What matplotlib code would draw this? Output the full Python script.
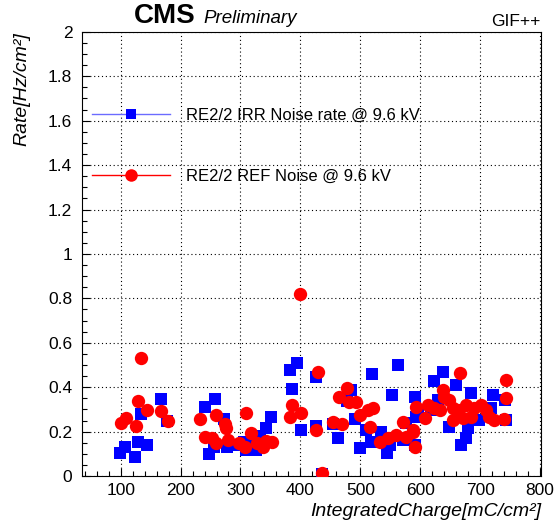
import matplotlib
matplotlib.use("Agg")
import matplotlib.pyplot as plt
from matplotlib.lines import Line2D
from matplotlib.ticker import MultipleLocator

plt.rcParams['font.family'] = ['Liberation Sans', 'DejaVu Sans']

# RE2/2 IRR noise rate (blue squares)
irr_charge = [98.8, 107.2, 128.3, 143.3, 123.8, 133.3, 166.7, 177.7,
              240.5, 258.3, 272.2, 247.7, 255.5, 276.7, 290.5, 306, 310, 326.7,
              323.8, 332.2, 343.3, 351.7, 382.2, 394.3, 386, 400.5, 425.5, 425.5,
              436.7, 520, 562.7, 485, 478.3, 552.7, 590.5, 454.3, 462.7, 490.5,
              510, 498.8, 518.3, 535, 544.3, 550, 571, 576.7, 590.5, 593.3,
              637.7, 623.8, 660, 685, 721, 742.2, 718.3, 743.3, 698.8, 648.8,
              679.3, 676.7, 668.3, 629.3, 618.3, 596]
irr_rate = [0.102, 0.132, 0.155, 0.140, 0.084, 0.279, 0.345, 0.249,
            0.309, 0.345, 0.255, 0.099, 0.129, 0.132, 0.140, 0.155, 0.117, 0.117,
            0.155, 0.180, 0.215, 0.264, 0.477, 0.508, 0.392, 0.207, 0.444, 0.227,
            0.010, 0.458, 0.500, 0.387, 0.339, 0.365, 0.357, 0.234, 0.170, 0.255,
            0.207, 0.125, 0.155, 0.200, 0.102, 0.140, 0.162, 0.237, 0.140, 0.267,
            0.470, 0.429, 0.410, 0.375, 0.365, 0.342, 0.305, 0.252, 0.252, 0.222,
            0.215, 0.170, 0.140, 0.342, 0.297, 0.290]

# RE2/2 REF noise (red circles)
ref_charge = [133.8, 100, 108.8, 125, 129.3, 144.3, 167.2, 178.3,
              233, 240.5, 258.8, 273.8, 276, 310, 251.7, 258.8, 279.3, 297.7,
              307.2, 317.2, 327.7, 337.7, 343.3, 353.3, 386.7, 383.3, 400.5, 429,
              425.5, 436.5, 400, 454.3, 470, 477.7, 464.3, 481, 492.2, 500,
              512.7, 521, 516.7, 532.2, 546, 560, 571, 576.7, 587.7, 590.5,
              593.3, 667.2, 743.3, 743.3, 637.7, 640.5, 648.8, 612.7, 623.8, 632.2,
              654.3, 662.7, 676.7, 690.5, 701.7, 710, 715.5, 723.8, 740.5, 654.3,
              671, 685, 607.2, 587.7]
ref_rate = [0.530, 0.240, 0.260, 0.225, 0.339, 0.297, 0.293, 0.249,
            0.258, 0.176, 0.275, 0.234, 0.215, 0.285, 0.170, 0.147, 0.162, 0.150,
            0.129, 0.195, 0.147, 0.132, 0.159, 0.155, 0.320, 0.267, 0.285, 0.470,
            0.207, 0.015, 0.820, 0.245, 0.234, 0.395, 0.354, 0.335, 0.335, 0.275,
            0.297, 0.305, 0.222, 0.155, 0.170, 0.185, 0.245, 0.177, 0.200, 0.132,
            0.312, 0.463, 0.432, 0.350, 0.387, 0.357, 0.342, 0.320, 0.305, 0.297,
            0.305, 0.297, 0.320, 0.305, 0.320, 0.297, 0.267, 0.252, 0.255, 0.252,
            0.260, 0.264, 0.260, 0.207]

labels = ["RE2/2 IRR Noise rate @ 9.6 kV", "RE2/2 REF Noise @ 9.6 kV"]

fig = plt.figure(figsize=(5.54, 5.22), dpi=100)
ax = fig.add_axes([0.148, 0.088, 0.829, 0.851])

ax.plot(irr_charge, irr_rate, ls='none', marker='s', ms=8.8, mfc='blue', mec='blue', mew=0, zorder=3)
ax.plot(ref_charge, ref_rate, ls='none', marker='o', ms=9.6, mfc='red', mec='red', mew=0, zorder=4)

ax.set_xlim(35.5, 802)
ax.set_ylim(0, 2)
ax.xaxis.set_major_locator(MultipleLocator(100))
ax.xaxis.set_minor_locator(MultipleLocator(20))
ax.yaxis.set_major_locator(MultipleLocator(0.2))
ax.yaxis.set_minor_locator(MultipleLocator(0.05))
ax.yaxis.set_major_formatter(plt.FuncFormatter(lambda v, p: '%g' % round(v, 1)))

ax.tick_params(which='both', direction='in', top=False, right=False, labelsize=12.5, width=0.8)
ax.tick_params(which='major', length=6)
ax.tick_params(which='minor', length=3.5)
ax.tick_params(axis='y', pad=7)
ax.tick_params(axis='x', pad=5)
for s in ax.spines.values():
    s.set_linewidth(0.8)

ax.grid(True, which='major', color='black', ls=(0, (1, 2.5)), lw=0.8)
ax.set_axisbelow(True)

ax.set_xlabel("IntegratedCharge[mC/cm²]", fontsize=14, style='italic', loc='right')
ax.set_ylabel("Rate[Hz/cm²]", fontsize=14, style='italic', loc='top')
ax.xaxis.set_label_coords(1.0, -0.06)
ax.yaxis.set_label_coords(-0.112, 1.0)

handles = [Line2D([], [], color='#6b6bff', lw=1, marker='s', ms=7.5, mfc='blue', mec='blue', mew=0),
           Line2D([], [], color='red', lw=1, marker='o', ms=9, mfc='red', mec='red', mew=0)]
ax.legend(handles, labels, loc='center left', bbox_to_anchor=(0.0218, 0.744), frameon=False,
          fontsize=12, handlelength=4.7, handletextpad=0.95, labelspacing=2.75,
          borderpad=0, borderaxespad=0, numpoints=1)

fig.text(134 / 554, 1 - 23 / 522, "CMS", fontsize=20, weight='bold', va='baseline', ha='left')
fig.text(203 / 554, 1 - 23 / 522, "Preliminary", fontsize=13.5, style='italic', va='baseline', ha='left')
fig.text(541 / 554, 1 - 26 / 522, "GIF++", fontsize=12.5, va='baseline', ha='right')

fig.savefig("out.png", dpi=100)
